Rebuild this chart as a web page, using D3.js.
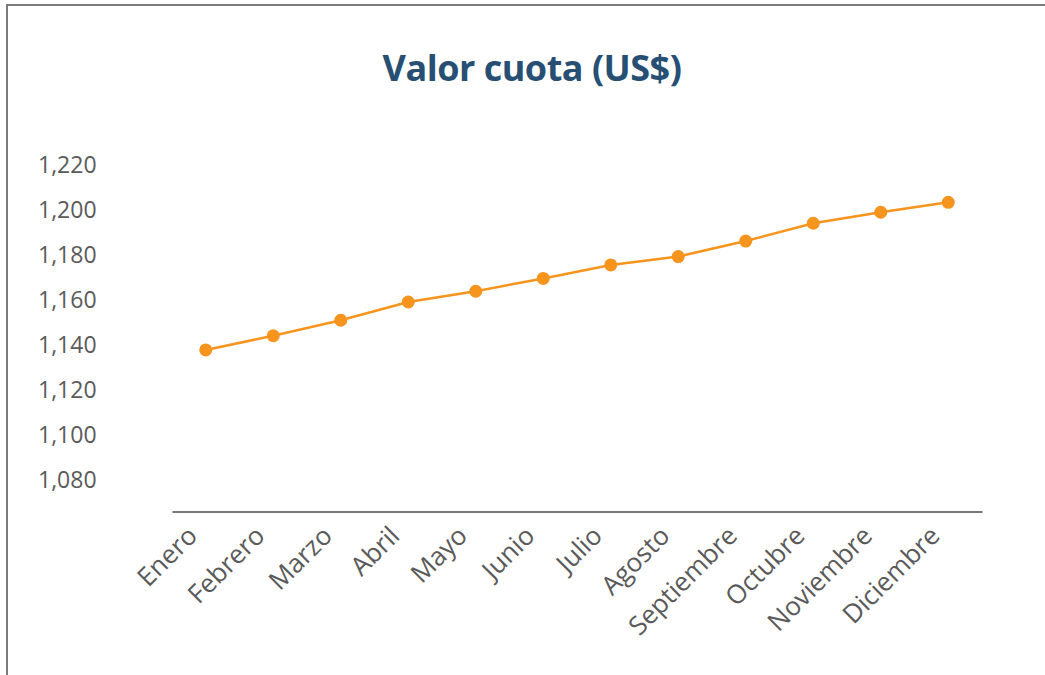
<!DOCTYPE html>
<html>
<head>
<meta charset="utf-8">
<script src="https://cdn.jsdelivr.net/npm/d3@7"></script>
<style>
  body { margin: 0; background: #fff; }
  .axis text { font-family: "Open Sans", Lato, sans-serif; fill: #5a5a5a; }
</style>
</head>
<body>
<div id="chart"></div>
<script>
// Chart data
const months = ["Enero", "Febrero", "Marzo", "Abril", "Mayo", "Junio",
                "Julio", "Agosto", "Septiembre", "Octubre", "Noviembre", "Diciembre"];
const valorCuota = [1137.8, 1144.1, 1151.0, 1159.1, 1163.9, 1169.6,
                    1175.6, 1179.3, 1186.2, 1194.1, 1199.0, 1203.4];
const yTicks = [1080, 1100, 1120, 1140, 1160, 1180, 1200, 1220];

const W = 1045, H = 675;

const svg = d3.select("#chart").append("svg")
    .attr("width", W)
    .attr("height", H);

// Outer frame (right and bottom edges fall outside the picture)
svg.append("rect")
    .attr("x", 7)
    .attr("y", 5)
    .attr("width", W + 20)
    .attr("height", H + 20)
    .attr("fill", "none")
    .attr("stroke", "#7a7a7a")
    .attr("stroke-width", 2);

// Title
svg.append("text")
    .attr("x", 532)
    .attr("y", 81)
    .attr("text-anchor", "middle")
    .attr("font-family", "'Open Sans', sans-serif")
    .attr("font-weight", "bold")
    .attr("font-size", "36px")
    .attr("letter-spacing", "-0.5px")
    .attr("fill", "#264f73")
    .text("Valor cuota (US$)");

// Scales
const x = d3.scaleBand()
    .domain(months)
    .range([172, 982]);

const y = d3.scaleLinear()
    .domain([1066, 1220])
    .range([511.5, 165]);

// Y axis: labels only
const yAxis = svg.append("g")
    .attr("class", "axis")
    .attr("transform", "translate(38,0)")
    .call(d3.axisLeft(y).tickValues(yTicks).tickFormat(d3.format(",")).tickSize(0));
yAxis.select(".domain").remove();
yAxis.selectAll("text")
    .attr("x", 0)
    .attr("text-anchor", "start")
    .attr("font-size", "23px");

// X axis
const xAxis = svg.append("g")
    .attr("class", "axis")
    .attr("transform", "translate(0," + y.range()[0] + ")")
    .call(d3.axisBottom(x).tickSize(0));
xAxis.select(".domain")
    .attr("stroke", "#777")
    .attr("stroke-width", 2);
xAxis.selectAll("text")
    .attr("font-size", "26px")
    .attr("text-anchor", "end")
    .attr("dy", 0)
    .attr("y", 0)
    .attr("transform", "translate(-7,26) rotate(-45)");

// Line
const line = d3.line()
    .x((d, i) => x(months[i]) + x.bandwidth() / 2)
    .y(d => y(d));

svg.append("path")
    .datum(valorCuota)
    .attr("fill", "none")
    .attr("stroke", "#f7941d")
    .attr("stroke-width", 2.5)
    .attr("d", line);

svg.selectAll(".point")
    .data(valorCuota)
  .enter().append("circle")
    .attr("class", "point")
    .attr("cx", (d, i) => x(months[i]) + x.bandwidth() / 2)
    .attr("cy", d => y(d))
    .attr("r", 6.5)
    .attr("fill", "#f7941d");
</script>
</body>
</html>
